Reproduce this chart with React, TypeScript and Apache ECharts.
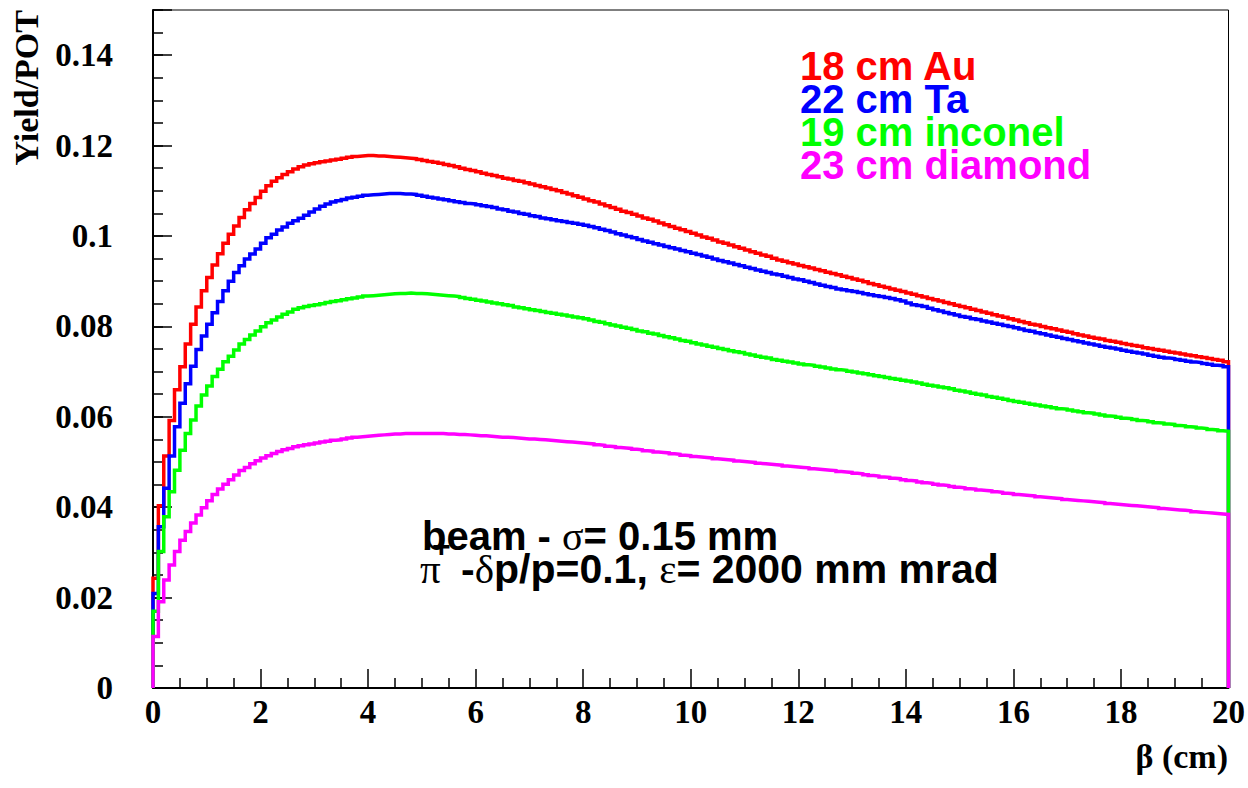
import React, { useEffect, useRef } from "react";
import * as echarts from "echarts";

// ---- binning (histogram of 200 bins, 0.1 cm wide, from 0 to 20 cm) ----
const X_MIN = 0;
const X_MAX = 20;
const BIN_WIDTH = 0.1;
const Y_MAX = 0.15;

// ---- series values (yield / POT per bin) ----
const au = [
  0.0243, 0.0403, 0.0513, 0.0592, 0.066, 0.0711, 0.0761, 0.0805, 0.0843, 0.0879,
  0.0908, 0.0936, 0.0961, 0.0984, 0.1004, 0.1022, 0.1041, 0.1058, 0.1072, 0.1085,
  0.1099, 0.1111, 0.1121, 0.1129, 0.1136, 0.1142, 0.1148, 0.1153, 0.1157, 0.116,
  0.1162, 0.1164, 0.1166, 0.1168, 0.117, 0.1172, 0.1174, 0.1176, 0.1177, 0.1178,
  0.1178, 0.1177, 0.1177, 0.1176, 0.1175, 0.1174, 0.1173, 0.1172, 0.1171, 0.1169,
  0.1167, 0.1165, 0.1163, 0.1161, 0.1158, 0.1156, 0.1153, 0.115, 0.1147, 0.1145,
  0.1142, 0.1139, 0.1136, 0.1134, 0.1131, 0.1128, 0.1126, 0.1123, 0.1121, 0.1118,
  0.1115, 0.1112, 0.1109, 0.1106, 0.1103, 0.11, 0.1096, 0.1093, 0.1089, 0.1086,
  0.1082, 0.1078, 0.1075, 0.1071, 0.1067, 0.1063, 0.1059, 0.1055, 0.1052, 0.1048,
  0.1044, 0.104, 0.1037, 0.1033, 0.1029, 0.1025, 0.1021, 0.1017, 0.1014, 0.101,
  0.1006, 0.1002, 0.0998, 0.0995, 0.0991, 0.0987, 0.0984, 0.098, 0.0976, 0.0973,
  0.0969, 0.0965, 0.0962, 0.0958, 0.0955, 0.0951, 0.0947, 0.0944, 0.0941, 0.0938,
  0.0935, 0.0932, 0.0929, 0.0926, 0.0923, 0.092, 0.0917, 0.0914, 0.0911, 0.0908,
  0.0905, 0.0902, 0.0899, 0.0895, 0.0892, 0.0889, 0.0886, 0.0883, 0.088, 0.0877,
  0.0874, 0.0871, 0.0868, 0.0865, 0.0862, 0.0859, 0.0856, 0.0853, 0.085, 0.0847,
  0.0844, 0.0841, 0.0838, 0.0835, 0.0832, 0.0829, 0.0826, 0.0823, 0.082, 0.0817,
  0.0814, 0.0811, 0.0808, 0.0805, 0.0803, 0.08, 0.0797, 0.0795, 0.0792, 0.0789,
  0.0787, 0.0784, 0.0781, 0.0779, 0.0776, 0.0774, 0.0772, 0.0769, 0.0767, 0.0765,
  0.0762, 0.076, 0.0758, 0.0756, 0.0753, 0.0751, 0.0749, 0.0747, 0.0745, 0.0743,
  0.0741, 0.0739, 0.0737, 0.0735, 0.0733, 0.0731, 0.0729, 0.0727, 0.0725, 0.0722,
];

const ta = [
  0.0209, 0.0357, 0.0442, 0.0513, 0.0578, 0.063, 0.0673, 0.0712, 0.0749, 0.0779,
  0.0805, 0.083, 0.0855, 0.0879, 0.09, 0.0919, 0.0934, 0.0949, 0.096, 0.0971,
  0.0984, 0.0996, 0.1004, 0.1013, 0.102, 0.1028, 0.1034, 0.1039, 0.1046, 0.1053,
  0.106, 0.1066, 0.1071, 0.1075, 0.1078, 0.1081, 0.1084, 0.1086, 0.1088, 0.109,
  0.1091, 0.1092, 0.1093, 0.1094, 0.1094, 0.1094, 0.1093, 0.1093, 0.1092, 0.109,
  0.1088, 0.1086, 0.1084, 0.1082, 0.108, 0.1078, 0.1076, 0.1074, 0.1072, 0.1071,
  0.1069, 0.1067, 0.1065, 0.1063, 0.106, 0.1058, 0.1055, 0.1053, 0.105, 0.1048,
  0.1045, 0.1043, 0.104, 0.1038, 0.1036, 0.1034, 0.1032, 0.103, 0.1028, 0.1026,
  0.1024, 0.1021, 0.1018, 0.1015, 0.1012, 0.1009, 0.1005, 0.1002, 0.0999, 0.0996,
  0.0992, 0.0989, 0.0986, 0.0983, 0.098, 0.0977, 0.0974, 0.0971, 0.0968, 0.0965,
  0.0962, 0.0959, 0.0956, 0.0953, 0.0949, 0.0946, 0.0943, 0.094, 0.0937, 0.0934,
  0.0931, 0.0928, 0.0925, 0.0922, 0.0919, 0.0916, 0.0914, 0.0911, 0.0908, 0.0905,
  0.0903, 0.09, 0.0897, 0.0894, 0.0891, 0.0888, 0.0886, 0.0883, 0.0881, 0.0879,
  0.0877, 0.0875, 0.0872, 0.087, 0.0868, 0.0866, 0.0864, 0.0862, 0.0859, 0.0856,
  0.0852, 0.0848, 0.0846, 0.0844, 0.084, 0.0837, 0.0834, 0.0831, 0.0828, 0.0825,
  0.0822, 0.082, 0.0817, 0.0815, 0.0812, 0.081, 0.0807, 0.0805, 0.0802, 0.08,
  0.0797, 0.0794, 0.0791, 0.0789, 0.0786, 0.0784, 0.0781, 0.0778, 0.0776, 0.0773,
  0.0771, 0.0768, 0.0766, 0.0763, 0.0761, 0.0759, 0.0756, 0.0754, 0.0752, 0.075,
  0.0747, 0.0745, 0.0743, 0.0741, 0.0739, 0.0736, 0.0734, 0.0732, 0.073, 0.0729,
  0.0727, 0.0725, 0.0723, 0.0721, 0.072, 0.0718, 0.0716, 0.0714, 0.0713, 0.0711,
];

const inconel = [
  0.017, 0.0302, 0.0379, 0.0434, 0.0482, 0.0526, 0.0563, 0.0593, 0.0624, 0.0648,
  0.0668, 0.0689, 0.0705, 0.0722, 0.0734, 0.0748, 0.0761, 0.0771, 0.0781, 0.079,
  0.0799, 0.0808, 0.0814, 0.0821, 0.0827, 0.0832, 0.0838, 0.0841, 0.0844, 0.0846,
  0.0848, 0.085, 0.0853, 0.0855, 0.0857, 0.0859, 0.0861, 0.0863, 0.0865, 0.0867,
  0.0868, 0.0869, 0.087, 0.0871, 0.0872, 0.0873, 0.0873, 0.0874, 0.0873, 0.0873,
  0.0872, 0.0871, 0.087, 0.0869, 0.0868, 0.0867, 0.0866, 0.0864, 0.0862, 0.086,
  0.0858, 0.0856, 0.0854, 0.0852, 0.085, 0.0848, 0.0846, 0.0843, 0.0841, 0.0839,
  0.0837, 0.0835, 0.0833, 0.0831, 0.0829, 0.0827, 0.0825, 0.0823, 0.0821, 0.0819,
  0.0817, 0.0814, 0.0811, 0.0809, 0.0806, 0.0803, 0.0801, 0.0798, 0.0796, 0.0793,
  0.079, 0.0788, 0.0785, 0.0783, 0.078, 0.0777, 0.0775, 0.0772, 0.0769, 0.0767,
  0.0764, 0.0761, 0.0759, 0.0756, 0.0754, 0.0751, 0.0749, 0.0746, 0.0744, 0.0742,
  0.0739, 0.0737, 0.0734, 0.0732, 0.073, 0.0727, 0.0725, 0.0723, 0.0721, 0.0719,
  0.0717, 0.0715, 0.0714, 0.0712, 0.071, 0.0708, 0.0706, 0.0704, 0.0703, 0.0701,
  0.0699, 0.0697, 0.0695, 0.0693, 0.0691, 0.0689, 0.0687, 0.0685, 0.0683, 0.0681,
  0.0679, 0.0677, 0.0675, 0.0672, 0.067, 0.0668, 0.0666, 0.0664, 0.0662, 0.0659,
  0.0657, 0.0655, 0.0652, 0.065, 0.0648, 0.0645, 0.0643, 0.0641, 0.0639, 0.0636,
  0.0634, 0.0632, 0.063, 0.0628, 0.0626, 0.0624, 0.0622, 0.062, 0.0618, 0.0617,
  0.0615, 0.0613, 0.0611, 0.0609, 0.0608, 0.0606, 0.0604, 0.0602, 0.0601, 0.0599,
  0.0597, 0.0596, 0.0594, 0.0592, 0.0591, 0.0589, 0.0587, 0.0586, 0.0584, 0.0583,
  0.0581, 0.058, 0.0578, 0.0577, 0.0575, 0.0574, 0.0572, 0.0571, 0.0569, 0.0568,
];

const diamond = [
  0.0114, 0.0191, 0.0239, 0.0272, 0.0302, 0.0327, 0.0346, 0.0365, 0.0383, 0.0399,
  0.0414, 0.0428, 0.044, 0.0451, 0.0461, 0.0471, 0.0481, 0.0488, 0.0496, 0.0503,
  0.0509, 0.0514, 0.0519, 0.0523, 0.0527, 0.053, 0.0534, 0.0536, 0.0538, 0.054,
  0.0542, 0.0544, 0.0546, 0.0548, 0.0549, 0.0551, 0.0553, 0.0555, 0.0556, 0.0557,
  0.0558, 0.0559, 0.056, 0.0561, 0.0562, 0.0562, 0.0563, 0.0563, 0.0563, 0.0563,
  0.0563, 0.0563, 0.0563, 0.0563, 0.0562, 0.0562, 0.0561, 0.0561, 0.056, 0.0559,
  0.0558, 0.0558, 0.0557, 0.0556, 0.0555, 0.0555, 0.0554, 0.0553, 0.0552, 0.0551,
  0.0551, 0.055, 0.0549, 0.0548, 0.0547, 0.0546, 0.0545, 0.0544, 0.0543, 0.0542,
  0.0541, 0.054, 0.0538, 0.0537, 0.0535, 0.0534, 0.0532, 0.0531, 0.053, 0.0528,
  0.0527, 0.0525, 0.0524, 0.0522, 0.0521, 0.052, 0.0518, 0.0517, 0.0515, 0.0514,
  0.0512, 0.0511, 0.051, 0.0509, 0.0507, 0.0506, 0.0505, 0.0504, 0.0502, 0.0501,
  0.05, 0.0499, 0.0497, 0.0496, 0.0495, 0.0494, 0.0493, 0.0491, 0.049, 0.0489,
  0.0488, 0.0487, 0.0485, 0.0484, 0.0483, 0.0482, 0.0481, 0.0479, 0.0478, 0.0477,
  0.0475, 0.0474, 0.0472, 0.047, 0.0469, 0.0467, 0.0466, 0.0464, 0.0463, 0.0461,
  0.0459, 0.0458, 0.0456, 0.0454, 0.0453, 0.0451, 0.0449, 0.0448, 0.0446, 0.0444,
  0.0443, 0.0441, 0.044, 0.0438, 0.0437, 0.0436, 0.0434, 0.0433, 0.0431, 0.043,
  0.0428, 0.0427, 0.0426, 0.0425, 0.0423, 0.0422, 0.0421, 0.042, 0.0419, 0.0417,
  0.0416, 0.0415, 0.0414, 0.0413, 0.0412, 0.0411, 0.041, 0.0408, 0.0407, 0.0406,
  0.0405, 0.0404, 0.0403, 0.0402, 0.0401, 0.04, 0.0399, 0.0397, 0.0396, 0.0395,
  0.0394, 0.0393, 0.0392, 0.039, 0.0389, 0.0388, 0.0387, 0.0386, 0.0385, 0.0384,
];

const seriesNames = ["18 cm Au", "22 cm Ta", "19 cm inconel", "23 cm diamond"];
const seriesColors = ["#ff0000", "#0000ff", "#00ff00", "#ff00ff"];
const seriesValues = [au, ta, inconel, diamond];

const SERIF = "'Liberation Serif', 'Times New Roman', serif";
const SANS = "'Liberation Sans', Arial, Helvetica, sans-serif";

// histogram outline: rise at X_MIN, one flat step per bin, drop at X_MAX
function toSteps(values: number[]): number[][] {
  const pts: number[][] = [[X_MIN, 0]];
  values.forEach((v, i) => pts.push([X_MIN + i * BIN_WIDTH, v]));
  pts.push([X_MAX, values[values.length - 1]]);
  pts.push([X_MAX, 0]);
  return pts;
}

function textEl(
  text: string,
  x: number,
  y: number,
  opts: { [k: string]: any } = {}
) {
  const align = opts.align || "left";
  const valign = opts.verticalAlign || "middle";
  return {
    type: "text",
    x,
    y,
    rotation: opts.rotation || 0,
    z: 100,
    style: {
      text,
      fill: opts.fill || "#000",
      fontFamily: opts.fontFamily || SANS,
      fontWeight: opts.fontWeight || "bold",
      fontSize: opts.fontSize || 40,
      lineHeight: opts.lineHeight,
      align,
      verticalAlign: valign,
      textAlign: align,
      textVerticalAlign: valign,
      rich: opts.rich,
    },
  };
}

export default function App() {
  const ref = useRef<HTMLDivElement>(null);

  useEffect(() => {
    if (!ref.current) return;
    const chart = echarts.init(ref.current, undefined, { renderer: "svg" });

    const greek = (size: number) => ({
      g: {
        fontFamily: SERIF,
        fontWeight: "normal",
        fontSize: size,
        lineHeight: 30,
        fill: "#000",
        color: "#000",
      },
    });

    const legendRows = seriesNames.map((name, i) =>
      textEl(name, 800, 66 + i * 33, { fill: seriesColors[i], lineHeight: 32 })
    );

    const option: any = {
      animation: false,
      backgroundColor: "#ffffff",
      grid: {
        left: 153,
        right: 19,
        top: 10,
        bottom: 100,
        show: true,
        borderColor: "#000",
        borderWidth: 1,
        backgroundColor: "transparent",
      },
      xAxis: {
        type: "value",
        min: X_MIN,
        max: X_MAX,
        interval: 2,
        axisLine: { show: true, onZero: false, lineStyle: { color: "#000", width: 2 } },
        axisTick: { show: true, inside: true, length: 19, lineStyle: { color: "#000", width: 1.5 } },
        minorTick: { show: true, splitNumber: 4, length: 10, lineStyle: { color: "#000", width: 1.5 } },
        axisLabel: {
          show: true,
          margin: 7,
          color: "#000",
          fontFamily: SERIF,
          fontWeight: "bold",
          fontSize: 33,
          formatter: (v: number) => String(v),
        },
        splitLine: { show: false },
      },
      yAxis: [
        {
          type: "value",
          min: 0,
          max: Y_MAX,
          interval: 0.02,
          position: "left",
          axisLine: { show: true, onZero: false, lineStyle: { color: "#000", width: 2 } },
          axisTick: { show: true, inside: true, length: 19, lineStyle: { color: "#000", width: 1.5 } },
          axisLabel: {
            show: true,
            margin: 40,
            color: "#000",
            fontFamily: SERIF,
            fontWeight: "bold",
            fontSize: 33,
            formatter: (v: number) =>
              v > 0.1445 ? "" : String(parseFloat(v.toFixed(3))),
          },
          splitLine: { show: false },
        },
        {
          type: "value",
          min: 0,
          max: Y_MAX,
          interval: 0.005,
          position: "left",
          axisLine: { show: false },
          axisTick: { show: true, inside: true, length: 10, lineStyle: { color: "#000", width: 1.5 } },
          axisLabel: { show: false },
          splitLine: { show: false },
        },
      ],
      series: seriesValues.map((vals, i) => ({
        name: seriesNames[i],
        type: "line",
        step: "end",
        xAxisIndex: 0,
        yAxisIndex: 0,
        showSymbol: false,
        symbol: "none",
        data: toSteps(vals),
        lineStyle: { color: seriesColors[i], width: 3.5, cap: "butt", join: "miter" },
        itemStyle: { color: seriesColors[i] },
        emphasis: { disabled: true },
        z: 2 + i,
      })),
      graphic: [
        textEl("Yield/POT", 26, 10, {
          fontFamily: SERIF,
          fontSize: 34,
          rotation: Math.PI / 2,
          align: "right",
        }),
        textEl("β (cm)", 1228, 756, { fontFamily: SERIF, fontSize: 34, align: "right" }),
        ...legendRows,
        textEl("beam - {g|σ}= 0.15 mm", 422, 536, { rich: greek(40), lineHeight: 30 }),
        textEl("{g|π}", 420, 569, { rich: greek(41), lineHeight: 30 }),
        textEl("+", 432, 546, { fontSize: 32, lineHeight: 18 }),
        textEl("-{g|δ}p/p=0.1, {g|ε}= 2000 mm mrad", 461, 569, {
          rich: greek(41),
          fontSize: 41,
          lineHeight: 30,
        }),
      ],
    };

    chart.setOption(option);
    return () => {
      chart.dispose();
    };
  }, []);

  return (
    <div
      ref={ref}
      style={{ position: "fixed", left: 0, top: 0, width: 1248, height: 788, background: "#fff" }}
    />
  );
}
